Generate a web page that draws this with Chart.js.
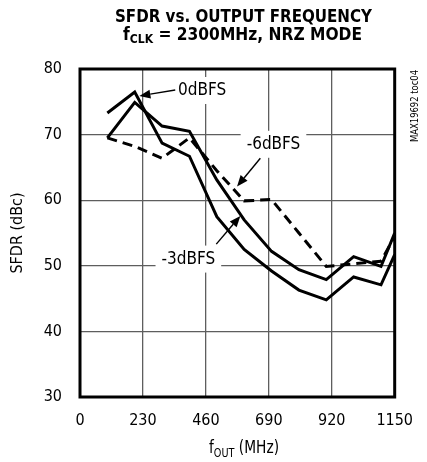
<!DOCTYPE html>
<html>
<head>
<meta charset="utf-8">
<script src="https://cdn.jsdelivr.net/npm/chart.js@4/dist/chart.umd.min.js"></script>
<style>
  html, body { margin: 0; padding: 0; background: #fff; }
  canvas { display: block; }
</style>
</head>
<body>
<canvas id="sfdr" width="427" height="462"></canvas>
<script>
// values
const FREQ_MHZ = [100, 200, 300, 400, 500, 600, 700, 800, 900, 1000, 1100, 1150];
const SFDR_0DBFS = [73.3, 76.5, 68.7, 66.7, 57.5, 52.5, 49.2, 46.3, 44.8, 48.3, 47.1, 51.7];
const SFDR_M3DBFS = [69.5, 74.9, 71.3, 70.5, 63.1, 57.0, 52.2, 49.4, 47.9, 51.4, 49.9, 55.0];
const SFDR_M6DBFS = [69.5, 68.2, 66.4, 69.5, 64.5, 59.9, 60.1, 55.0, 49.9, 50.3, 50.7, 54.5];
const X_TICKS = [0, 230, 460, 690, 920, 1150];
const Y_TICKS = [30, 40, 50, 60, 70, 80];

const NARROW = "'Liberation Sans Narrow', 'DejaVu Sans Condensed', 'Liberation Sans', Arial, sans-serif";

// curve labels: text anchor, arrow start and arrow tip, all in data units
const callouts = [
  { text: '0dBFS', at: [358, 76.8], align: 'left', from: [348, 76.8], tip: [217, 75.9] },
  { text: '-6dBFS', at: [707, 68.6], align: 'center', from: [659, 66.4], tip: [574, 62.1] },
  { text: '-3dBFS', at: [396, 51.1], align: 'center', from: [498, 53.3], tip: [586, 57.6] },
];

function points(values) {
  return FREQ_MHZ.map((f, i) => ({ x: f, y: values[i] }));
}

// draws a run of text pieces (for subscripts), squeezed to a given width
function drawRich(ctx, parts, cx, baseline, width) {
  ctx.save();
  let natural = 0;
  for (const p of parts) {
    ctx.font = p.font;
    natural += ctx.measureText(p.t).width;
  }
  const sx = width ? width / natural : 1;
  ctx.translate(cx, baseline);
  ctx.scale(sx, 1);
  let x = -natural / 2;
  ctx.textAlign = 'left';
  ctx.textBaseline = 'alphabetic';
  ctx.fillStyle = '#000';
  for (const p of parts) {
    ctx.font = p.font;
    ctx.fillText(p.t, x, p.dy || 0);
    x += ctx.measureText(p.t).width;
  }
  ctx.restore();
}

function arrow(ctx, x0, y0, x1, y1) {
  const a = Math.atan2(y1 - y0, x1 - x0);
  const len = 11, half = 4.5;
  ctx.beginPath();
  ctx.moveTo(x0, y0);
  ctx.lineTo(x1 - Math.cos(a) * len, y1 - Math.sin(a) * len);
  ctx.lineWidth = 1.4;
  ctx.strokeStyle = '#000';
  ctx.stroke();
  ctx.beginPath();
  ctx.moveTo(x1, y1);
  ctx.lineTo(x1 - Math.cos(a) * len - Math.sin(a) * half, y1 - Math.sin(a) * len + Math.cos(a) * half);
  ctx.lineTo(x1 - Math.cos(a) * len + Math.sin(a) * half, y1 - Math.sin(a) * len - Math.cos(a) * half);
  ctx.closePath();
  ctx.fillStyle = '#000';
  ctx.fill();
}

const decorations = {
  id: 'decorations',
  afterDatasetsDraw(chart) {
    const { ctx, chartArea: area, scales: { x, y } } = chart;

    // callouts with white boxes over the grid
    ctx.save();
    ctx.font = '17px ' + NARROW;
    ctx.textBaseline = 'middle';
    for (const c of callouts) {
      const px = x.getPixelForValue(c.at[0]);
      const py = y.getPixelForValue(c.at[1]);
      const w = ctx.measureText(c.text).width;
      const left = c.align === 'left' ? px : px - w / 2;
      ctx.fillStyle = '#fff';
      ctx.fillRect(left - 6, py - 13, w + 12, 27);
      ctx.fillStyle = '#000';
      ctx.textAlign = 'left';
      ctx.fillText(c.text, left, py + 1);
      arrow(ctx, x.getPixelForValue(c.from[0]), y.getPixelForValue(c.from[1]),
        x.getPixelForValue(c.tip[0]), y.getPixelForValue(c.tip[1]));
    }
    ctx.restore();

    // heavy frame
    ctx.save();
    ctx.lineWidth = 3;
    ctx.strokeStyle = '#000';
    ctx.strokeRect(area.left, area.top, area.right - area.left, area.bottom - area.top);
    ctx.restore();

    // titles
    const bold = (s) => 'bold ' + s + 'px ' + NARROW;
    drawRich(ctx, [{ t: 'SFDR vs. OUTPUT FREQUENCY', font: bold(18.5) }], 243.5, 21.7, 257);
    drawRich(ctx, [
      { t: 'f', font: bold(18.5) },
      { t: 'CLK', font: bold(13), dy: 3.5 },
      { t: ' = 2300MHz, NRZ MODE', font: bold(18.5) },
    ], 242.5, 39.5, 239);

    // axis titles
    const reg = (s) => s + 'px ' + NARROW;
    drawRich(ctx, [
      { t: 'f', font: reg(17) },
      { t: 'OUT', font: reg(12), dy: 4 },
      { t: ' (MHz)', font: reg(17) },
    ], 244, 453, 70);

    ctx.save();
    ctx.translate(22, (area.top + area.bottom) / 2);
    ctx.rotate(-Math.PI / 2);
    ctx.font = reg(16);
    ctx.fillStyle = '#000';
    ctx.textAlign = 'center';
    ctx.textBaseline = 'alphabetic';
    ctx.fillText('SFDR (dBc)', 0, 0);
    ctx.restore();

    ctx.save();
    ctx.translate(418, 106);
    ctx.rotate(-Math.PI / 2);
    drawRich(ctx, [{ t: 'MAX19692 toc04', font: reg(10) }], 0, 0, 72);
    ctx.restore();
  },
};

const gridStyle = { color: '#5e5e5e', lineWidth: 1.3, drawTicks: false };
const tickFont = { family: NARROW, size: 16 };

new Chart(document.getElementById('sfdr'), {
  type: 'line',
  data: {
    datasets: [
      { label: '0dBFS', data: points(SFDR_0DBFS), borderColor: '#000', borderWidth: 3, pointRadius: 0, tension: 0 },
      { label: '-3dBFS', data: points(SFDR_M3DBFS), borderColor: '#000', borderWidth: 3, pointRadius: 0, tension: 0 },
      { label: '-6dBFS', data: points(SFDR_M6DBFS), borderColor: '#000', borderWidth: 3, borderDash: [10, 6], pointRadius: 0, tension: 0 },
    ],
  },
  options: {
    responsive: false,
    animation: false,
    devicePixelRatio: 1,
    layout: { padding: { top: 69, right: 20, bottom: 0, left: 0 } },
    plugins: { legend: { display: false }, tooltip: { enabled: false } },
    scales: {
      x: {
        type: 'linear',
        min: 0,
        max: 1150,
        afterBuildTicks: (axis) => { axis.ticks = X_TICKS.map((v) => ({ value: v })); },
        afterFit: (axis) => { axis.height = 65; },
        grid: gridStyle,
        border: { display: false },
        ticks: { padding: 14, color: '#000', font: tickFont, maxRotation: 0, callback: (v) => String(v) },
      },
      y: {
        min: 30,
        max: 80,
        afterBuildTicks: (axis) => { axis.ticks = Y_TICKS.map((v) => ({ value: v })); },
        afterFit: (axis) => { axis.width = 80; },
        grid: gridStyle,
        border: { display: false },
        ticks: { padding: 18, color: '#000', font: tickFont, callback: (v) => String(v) },
      },
    },
  },
  plugins: [decorations],
});
</script>
</body>
</html>
